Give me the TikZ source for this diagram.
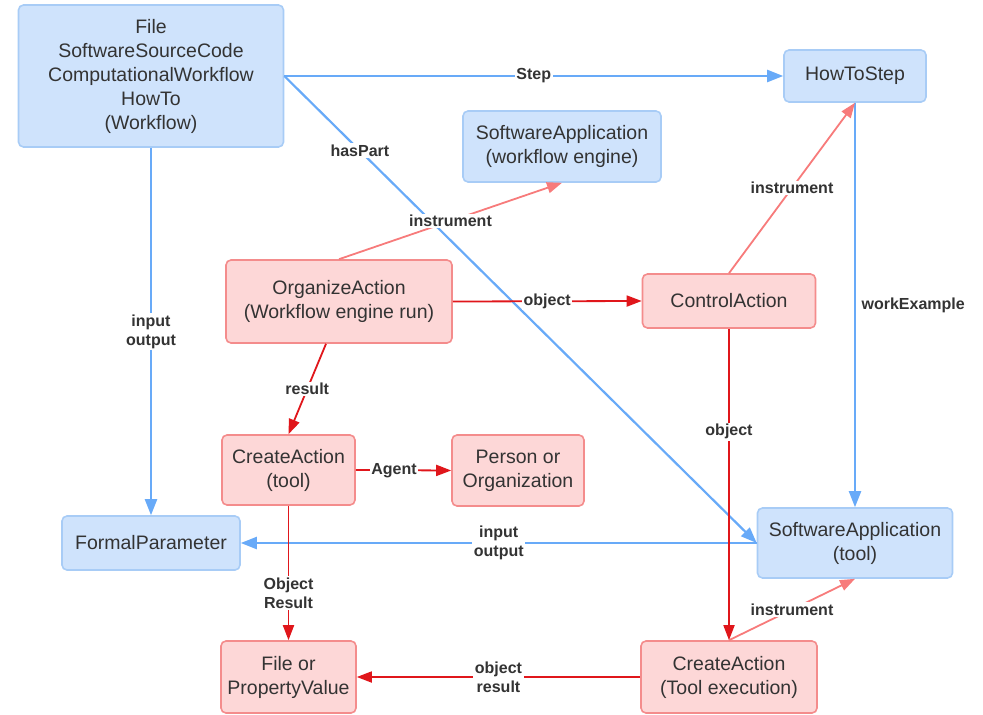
\documentclass[tikz,border=0pt]{standalone}
\usepackage{fontspec}
\setmainfont{Liberation Sans}
\usetikzlibrary{arrows.meta,calc}

\definecolor{bluefill}{HTML}{CFE3FC}
\definecolor{blueedge}{HTML}{A8CCF6}
\definecolor{bluelink}{HTML}{68AAF8}
\definecolor{redfill}{HTML}{FDD7D7}
\definecolor{rededge}{HTML}{F48C8C}
\definecolor{darklink}{HTML}{E0161B}
\definecolor{lightlink}{HTML}{F77B7B}
\definecolor{txt}{HTML}{333333}

\begin{document}
\begin{tikzpicture}[x=1pt,y=-1pt,
  box/.style={rounded corners=5pt, line width=1.6pt, align=center,
    font=\fontsize{19.5}{24}\selectfont, text=txt, inner sep=0pt},
  bluebox/.style={box, fill=bluefill, draw=blueedge},
  redbox/.style={box, fill=redfill, draw=rededge},
  bluearr/.style={draw=bluelink, line width=2.2pt, -{Triangle[length=16pt,width=12pt]}},
  darkarr/.style={draw=darklink, line width=1.8pt, -{Triangle[length=15pt,width=11pt]}},
  lightarr/.style={draw=lightlink, line width=1.8pt, -{Triangle[length=15pt,width=11pt]}},
  lbl/.style={fill=white, text=txt, font=\bfseries\fontsize{16}{19}\selectfont,
    inner sep=1.5pt, align=center}
]
\useasboundingbox (0,0) rectangle (983,715);

% ---- nodes ----
\node[bluebox, minimum width=265pt, minimum height=142pt] (wf) at (151,76)
  {File\\SoftwareSourceCode\\ComputationalWorkflow\\HowTo\\(Workflow)};
\node[bluebox, minimum width=142pt, minimum height=52pt] (howto) at (855,76) {HowToStep};
\node[bluebox, minimum width=198pt, minimum height=71pt] (engine) at (562,146.5)
  {SoftwareApplication\\(workflow engine)};
\node[redbox, minimum width=226pt, minimum height=83pt] (org) at (339,301.5)
  {OrganizeAction\\(Workflow engine run)};
\node[redbox, minimum width=173pt, minimum height=54pt] (ctrl) at (729,301) {ControlAction};
\node[redbox, minimum width=133pt, minimum height=70pt] (ctool) at (288.5,470)
  {CreateAction\\(tool)};
\node[redbox, minimum width=132pt, minimum height=71pt] (person) at (518,470.5)
  {Person or\\Organization};
\node[bluebox, minimum width=178pt, minimum height=54pt] (fp) at (151,543) {FormalParameter};
\node[bluebox, minimum width=195pt, minimum height=70pt] (satool) at (855,543)
  {SoftwareApplication\\(tool)};
\node[redbox, minimum width=135pt, minimum height=72pt] (file) at (288.5,677)
  {File or\\PropertyValue};
\node[redbox, minimum width=176pt, minimum height=72pt] (cexec) at (729,677)
  {CreateAction\\(Tool execution)};

% ---- blue links ----
\draw[bluearr] (wf.east) -- node[lbl] {Step} (howto.west);
\draw[bluearr] (wf.east) -- node[lbl, pos=0.16] {hasPart} (satool.west);
\draw[bluearr] (wf.south) -- node[lbl] {input\\output} (fp.north);
\draw[bluearr] (satool.west) -- node[lbl] {input\\output} (fp.east);
\draw[bluearr] (howto.south) -- node[lbl, right, xshift=4pt, fill=none] {workExample} (satool.north);

% ---- red links ----
\draw[lightarr] (org.north) -- node[lbl] {instrument} (engine.south);
\draw[darkarr] (org.east) -- node[lbl] {object} (ctrl.west);
\draw[lightarr] (ctrl.north) -- node[lbl] {instrument} (howto.south);
\draw[darkarr] (ctrl.south) -- node[lbl, pos=0.33] {object} (cexec.north);
\draw[darkarr] ([xshift=-13pt]org.south) -- node[lbl] {result} (ctool.north);
\draw[darkarr] (ctool.east) -- node[lbl, pos=0.4] {Agent} (person.west);
\draw[darkarr] (ctool.south) -- node[lbl, pos=0.65] {Object\\Result} (file.north);
\draw[darkarr] (cexec.west) -- node[lbl] {object\\result} (file.east);
\draw[lightarr] (cexec.north) -- node[lbl] {instrument} (satool.south);
\end{tikzpicture}
\end{document}
